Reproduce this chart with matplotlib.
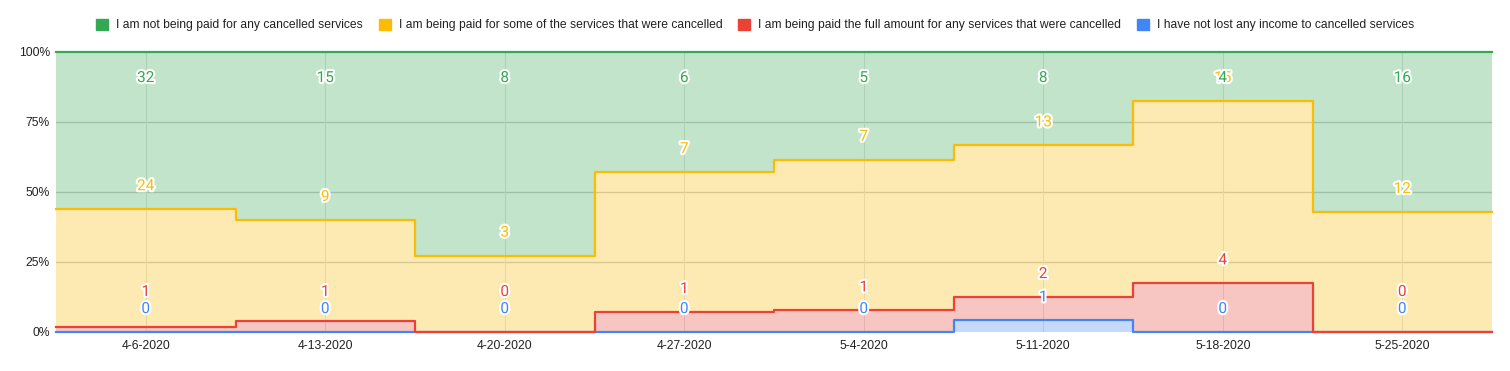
import numpy as np
import matplotlib.pyplot as plt
import matplotlib.patheffects as pe

plt.rcParams['font.family'] = ['Liberation Sans', 'DejaVu Sans']

# Data (counts per week)
weeks = ["4-6-2020", "4-13-2020", "4-20-2020", "4-27-2020",
         "5-4-2020", "5-11-2020", "5-18-2020", "5-25-2020"]
not_lost = [0, 0, 0, 0, 0, 1, 0, 0]
paid_full = [1, 1, 0, 1, 1, 2, 4, 0]
paid_some = [24, 9, 3, 7, 7, 13, 15, 12]
not_paid = [32, 15, 8, 6, 5, 8, 4, 16]

labels = ["I have not lost any income to cancelled services",
          "I am being paid the full amount for any services that were cancelled",
          "I am being paid for some of the services that were cancelled",
          "I am not being paid for any cancelled services"]
colors = ["#4285F4", "#EA4335", "#FBBC04", "#34A853"]

series = np.array([not_lost, paid_full, paid_some, not_paid], dtype=float)
totals = series.sum(axis=0)
cum = np.cumsum(series, axis=0) / totals * 100

fig = plt.figure(figsize=(15.1, 3.71), dpi=100)
ax = fig.add_axes([56 / 1510, 39 / 371, 1436 / 1510, 280 / 371])

n = len(weeks)
edges = np.arange(n + 1)

# grid
for yv in [25, 50, 75]:
    ax.axhline(yv, color="#cccccc", lw=1, zorder=0)
for xv in np.arange(n) + 0.5:
    ax.axvline(xv, color="#e4e4e4", lw=0.8, zorder=0)

lower = np.zeros(n)
for i in range(4):
    top = cum[i]
    ax.fill_between(edges, np.append(lower, lower[-1]), np.append(top, top[-1]),
                    step="post", color=colors[i], alpha=0.3, lw=0, zorder=1)
    lower = top
for i in range(4):
    top = cum[i]
    ax.step(edges, np.append(top, top[-1]), where="post", color=colors[i],
            lw=1.6, zorder=2 + i, solid_joinstyle="round", clip_on=False)

# data labels
halo = [pe.withStroke(linewidth=3, foreground="white")]
for j in range(n):
    prev = -100
    for i in range(4):
        y = cum[i][j] + 8.2
        if y < prev + 6.1:
            y = prev + 6.1
        y = min(y, 90.7)
        prev = y
        ax.text(j + 0.5, y, str(int(series[i][j])), color=colors[i], fontsize=11,
                family=["Roboto", "DejaVu Sans"],
                ha="center", va="center", path_effects=halo, zorder=10)

ax.set_xlim(0, n)
ax.set_ylim(0, 100)
ax.set_xticks(np.arange(n) + 0.5)
ax.set_xticklabels(weeks, fontsize=8.7, color="#222222")
ax.set_yticks([0, 25, 50, 75, 100])
ax.set_yticklabels(["0%", "25%", "50%", "75%", "100%"], fontsize=8.7, color="#222222")
ax.tick_params(axis="x", length=0, pad=6)
ax.tick_params(axis="y", length=0, pad=4.5)
for s in ax.spines.values():
    s.set_visible(False)

# legend, green first
hs = [plt.Rectangle((0, 0), 1, 1, color=colors[i]) for i in [3, 2, 1, 0]]
fig.legend(hs, [labels[i] for i in [3, 2, 1, 0]], loc="center", ncol=4,
           bbox_to_anchor=(0.5, 1 - 25 / 371), frameon=False, fontsize=8.7,
           handlelength=1.0, handleheight=1.0, handletextpad=0.65, columnspacing=1.3,
           labelcolor="#222222")

fig.savefig("out.png", dpi=100)
